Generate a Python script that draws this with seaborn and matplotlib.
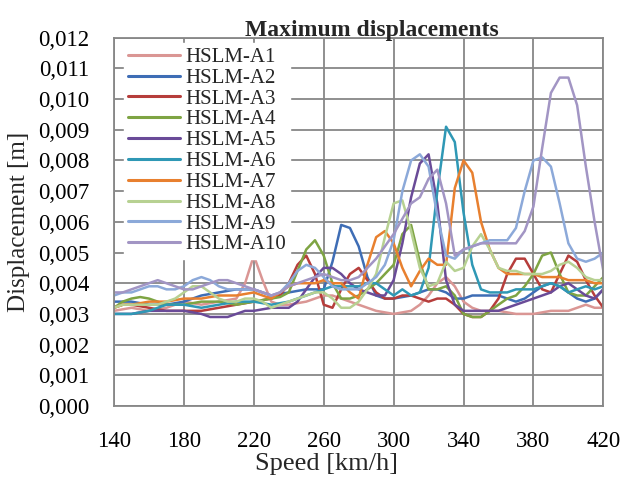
import matplotlib
matplotlib.use("Agg")
import matplotlib.pyplot as plt
import seaborn as sns
import numpy as np
import pandas as pd
from matplotlib.ticker import FuncFormatter, MultipleLocator

# speeds every 5 km/h
speed = list(range(140, 425, 5))
speed_ticks = [140, 180, 220, 260, 300, 340, 380, 420]

hslm_a1 = [.0031, .00315, .0032, .00315, .0031, .00315, .0032, .0033, .0034, .00335,
           .0033, .00335, .0034, .00345, .0035, .0040, .0049, .0041, .0034, .0033,
           .0033, .00335, .0034, .0035, .0036, .0036, .0035, .0034, .0033, .0032,
           .0031, .00305, .0030, .00305, .0031, .0033, .0036, .0040, .0042, .0039,
           .0034, .0032, .0031, .0031, .0031, .00305, .0030, .0030, .0030, .00305,
           .0031, .0031, .0031, .0032, .0033, .0032, .0032]
hslm_a2 = [.0034, .0034, .0034, .00335, .0033, .0033, .0033, .00335, .0034, .0035,
           .0036, .00365, .0037, .00375, .0038, .0038, .0038, .0037, .0036, .00365,
           .0037, .00375, .0038, .0038, .0038, .0047, .0059, .0058, .0052, .0042,
           .0036, .0035, .0035, .00355, .0036, .0037, .0038, .0038, .0037, .0035,
           .0035, .0036, .0036, .0036, .0036, .0035, .0034, .0035, .0037, .0039,
           .0040, .0039, .0037, .0035, .0034, .0035, .0038]
hslm_a3 = [.0032, .0033, .0033, .00325, .0032, .00315, .0031, .0031, .0031, .0031,
           .0031, .00315, .0032, .00325, .0033, .00335, .0034, .00345, .0035, .0036,
           .0040, .0046, .0049, .0043, .0033, .0032, .0038, .0043, .0045, .0041,
           .0037, .0035, .0035, .0036, .0036, .0035, .0034, .0035, .0035, .0033,
           .0030, .0029, .0029, .0031, .0035, .0043, .0048, .0048, .0043, .0038,
           .0037, .0043, .0049, .0047, .0041, .0036, .0032]
hslm_a4 = [.0032, .0034, .0035, .00355, .0035, .0034, .0033, .0033, .0033, .00335,
           .0034, .0034, .0034, .00335, .0033, .00335, .0034, .00345, .0035, .00355,
           .0037, .0044, .0051, .0054, .0049, .0040, .0035, .0035, .0036, .0038,
           .0040, .0043, .0046, .0056, .0059, .0047, .0038, .0038, .0039, .0036,
           .0030, .0029, .0029, .0031, .0033, .0035, .0036, .0039, .0043, .0049,
           .0050, .0043, .0037, .0036, .0036, .0039, .0042]
hslm_a5 = [.0030, .0030, .0030, .00305, .0031, .0031, .0031, .0031, .0031, .00305,
           .0030, .0029, .0029, .0029, .0030, .0031, .0031, .00315, .0032, .0032,
           .0032, .0034, .0038, .0042, .0045, .0045, .0043, .0040, .0038, .0037,
           .0036, .0036, .0041, .0053, .0068, .0079, .0082, .0066, .0041, .0033,
           .0031, .0031, .0031, .0031, .0031, .0032, .0033, .0034, .0035, .0036,
           .0037, .0039, .0040, .0038, .0036, .0035, .0038]
hslm_a6 = [.0030, .0030, .0030, .00305, .0031, .0032, .0033, .0033, .0033, .00325,
           .0032, .00325, .0033, .00335, .0034, .0034, .0034, .00335, .0033, .00335,
           .0034, .0035, .0036, .0037, .0038, .0039, .0039, .0039, .0039, .0040,
           .0040, .0038, .0036, .0038, .0036, .0037, .0045, .0070, .0091, .0086,
           .0063, .0046, .0038, .0037, .0037, .0037, .0038, .0038, .0038, .0039,
           .0040, .0039, .0037, .0038, .0039, .0038, .0039]
hslm_a7 = [.0032, .0033, .0033, .00335, .0034, .0034, .0034, .00345, .0035, .0035,
           .0035, .00355, .0036, .0036, .0036, .00365, .0037, .0036, .0035, .0037,
           .0039, .0040, .0040, .0040, .0041, .0040, .0040, .0037, .0035, .0046,
           .0055, .0057, .0053, .0045, .0039, .0044, .0048, .0046, .0046, .0071,
           .0080, .0076, .0060, .0051, .0045, .0043, .0043, .0043, .0043, .0042,
           .0042, .0042, .0041, .0041, .0041, .0040, .0040]
hslm_a8 = [.0032, .0033, .0033, .0033, .0033, .0033, .0034, .0035, .0037, .0039,
           .0039, .0037, .0035, .0034, .0034, .0035, .0035, .0034, .0032, .0033,
           .0034, .0035, .0036, .0037, .0037, .0035, .0032, .0032, .0034, .0038,
           .0043, .0055, .0066, .0067, .0057, .0045, .0039, .0040, .0047, .0044,
           .0045, .0052, .0056, .0051, .0045, .0044, .0044, .0043, .0043, .0043,
           .0044, .0046, .0047, .0045, .0042, .0041, .0041]
hslm_a9 = [.0036, .0037, .0037, .0038, .0039, .0039, .0038, .0038, .0039, .0041,
           .0042, .0041, .0039, .0038, .0038, .0038, .0038, .0037, .0036, .0037,
           .0040, .0044, .0046, .0045, .0042, .0039, .0038, .0038, .0038, .0040,
           .0042, .0046, .0054, .0070, .0080, .0082, .0078, .0062, .0049, .0048,
           .0051, .0052, .0053, .0054, .0054, .0054, .0058, .0070, .0080, .0081,
           .0078, .0066, .0053, .0048, .0047, .0048, .0050]
hslm_a10 = [.0037, .0037, .0038, .0039, .0040, .0041, .0040, .0039, .0038, .0038,
            .0039, .0040, .0041, .0041, .0040, .0039, .0038, .0037, .0036, .0037,
            .0039, .0040, .0041, .0042, .0043, .0042, .0041, .0041, .0042, .0045,
            .0048, .0052, .0056, .0061, .0066, .0068, .0074, .0077, .0066, .0049,
            .0051, .0052, .0053, .0053, .0053, .0053, .0053, .0057, .0065, .0084,
            .0102, .0107, .0107, .0098, .0078, .0060, .0044]

series_names = ["HSLM-A1", "HSLM-A2", "HSLM-A3", "HSLM-A4", "HSLM-A5",
                "HSLM-A6", "HSLM-A7", "HSLM-A8", "HSLM-A9", "HSLM-A10"]
series_values = [hslm_a1, hslm_a2, hslm_a3, hslm_a4, hslm_a5,
                 hslm_a6, hslm_a7, hslm_a8, hslm_a9, hslm_a10]
colors = ["#DA9694", "#3E6DB5", "#B63D3B", "#7EA443", "#6A4B98",
          "#2F98B5", "#E8802F", "#B7D192", "#8CA9D9", "#A295C4"]

frames = []
for name, vals in zip(series_names, series_values):
    frames.append(pd.DataFrame({"speed": speed, "disp": vals, "series": name}))
df = pd.concat(frames, ignore_index=True)

sns.set_theme(style="white")
plt.rcParams["font.family"] = ["Liberation Serif", "DejaVu Serif"]

fig = plt.figure(figsize=(6.22, 4.82), dpi=100)
ax = fig.add_axes([0.1833, 0.1577, 0.7867, 0.7641])

sns.lineplot(data=df, x="speed", y="disp", hue="series", palette=colors,
             linewidth=1.8, ax=ax, legend=True)

grid_col = "#878787"
ax.set_xlim(140, 420)
ax.set_ylim(0, 0.012)
ax.set_xticks(speed_ticks)
ax.yaxis.set_major_locator(MultipleLocator(0.001))
ax.yaxis.set_major_formatter(FuncFormatter(lambda v, p: f"{v:.3f}".replace(".", ",")))
ax.grid(True, color=grid_col, linewidth=1.3)
ax.set_axisbelow(True)
for s in ax.spines.values():
    s.set_color(grid_col)
    s.set_linewidth(1.3)
ax.tick_params(axis="both", which="major", direction="out", length=6, width=1.3,
               color=grid_col, labelsize=16.5, labelcolor="black")
ax.tick_params(axis="x", pad=12)
ax.tick_params(axis="y", pad=12)
ax.set_xlabel("Speed [km/h]", fontsize=19)
ax.set_ylabel("Displacement [m]", fontsize=18)
ax.xaxis.set_label_coords(0.434, -0.128)
ax.yaxis.set_label_coords(-0.172, 0.50)
ax.set_title("Maximum displacements", fontsize=17, fontweight="bold", pad=1, x=0.526)

leg = ax.legend(loc="upper left", bbox_to_anchor=(0.02, 0.985), fontsize=15,
                frameon=True, framealpha=1, edgecolor="white", facecolor="white",
                handlelength=2.5, handletextpad=0.25, labelspacing=0.06,
                borderpad=0.2, borderaxespad=0, fancybox=False)
for line in leg.get_lines():
    line.set_linewidth(2.2)

fig.savefig("out.png", dpi=100)
